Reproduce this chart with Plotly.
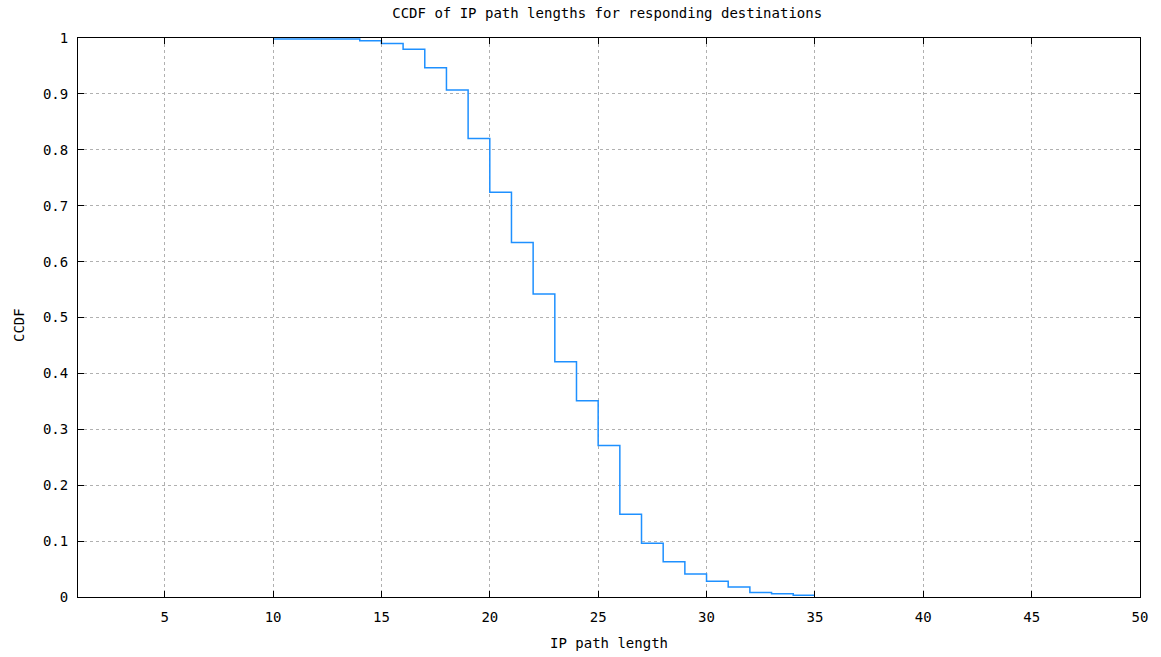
import plotly.graph_objects as go

path_length = [10, 11, 12, 13, 14, 15, 16, 17, 18, 19, 20, 21, 22, 23, 24,
               25, 26, 27, 28, 29, 30, 31, 32, 33, 34, 35]
ccdf = [0.998, 0.998, 0.998, 0.998, 0.995, 0.990, 0.980, 0.947, 0.907, 0.820,
        0.724, 0.634, 0.542, 0.421, 0.351, 0.271, 0.148, 0.096, 0.063, 0.041,
        0.028, 0.018, 0.008, 0.006, 0.003, 0.003]

x_ticks = [5, 10, 15, 20, 25, 30, 35, 40, 45, 50]
y_ticks = [0, 0.1, 0.2, 0.3, 0.4, 0.5, 0.6, 0.7, 0.8, 0.9, 1]
y_tick_text = ["0", "0.1", "0.2", "0.3", "0.4", "0.5", "0.6", "0.7", "0.8", "0.9", "1"]

FONT = "DejaVu Sans Mono"
FSIZE = 14

fig = go.Figure()
fig.add_trace(go.Scatter(
    x=path_length, y=ccdf, mode="lines", line_shape="hv",
    line=dict(color="#1e90ff", width=1.5), showlegend=False,
))

axis_common = dict(
    showline=True, linecolor="black", linewidth=1, mirror="allticks",
    ticks="inside", ticklen=6, tickcolor="black", tickwidth=1,
    showgrid=True, gridcolor="#b0b0b0", griddash="dot", gridwidth=1,
    zeroline=False, automargin=False,
    tickfont=dict(family=FONT, size=FSIZE, color="black"),
)

fig.update_layout(
    width=1161, height=657,
    paper_bgcolor="white", plot_bgcolor="white",
    margin=dict(l=78, r=21, t=38, b=60),
    title=dict(text="CCDF of IP path lengths for responding destinations",
               x=0.523, xanchor="center", y=0.9795, yanchor="middle",
               font=dict(family=FONT, size=FSIZE, color="black")),
    xaxis=dict(range=[1, 50], tickvals=x_ticks, ticklabelstandoff=7,
               **axis_common),
    yaxis=dict(range=[0, 1], tickvals=y_ticks, ticktext=y_tick_text,
               ticklabelstandoff=6, **axis_common),
    annotations=[
        dict(text="IP path length", xref="paper", yref="paper",
             x=0.5, y=0, xanchor="center", yanchor="middle",
             yshift=-46, showarrow=False,
             font=dict(family=FONT, size=FSIZE, color="black")),
        dict(text="CCDF", xref="paper", yref="paper",
             x=0, y=0.5, xanchor="center", yanchor="middle",
             xshift=-59, yshift=-7.5, textangle=-90, showarrow=False,
             font=dict(family=FONT, size=FSIZE, color="black")),
    ],
)

fig.write_html(
    "out.html",
    config={"displayModeBar": False},
    post_script="document.body.style.margin='0';document.body.style.padding='0';",
)
